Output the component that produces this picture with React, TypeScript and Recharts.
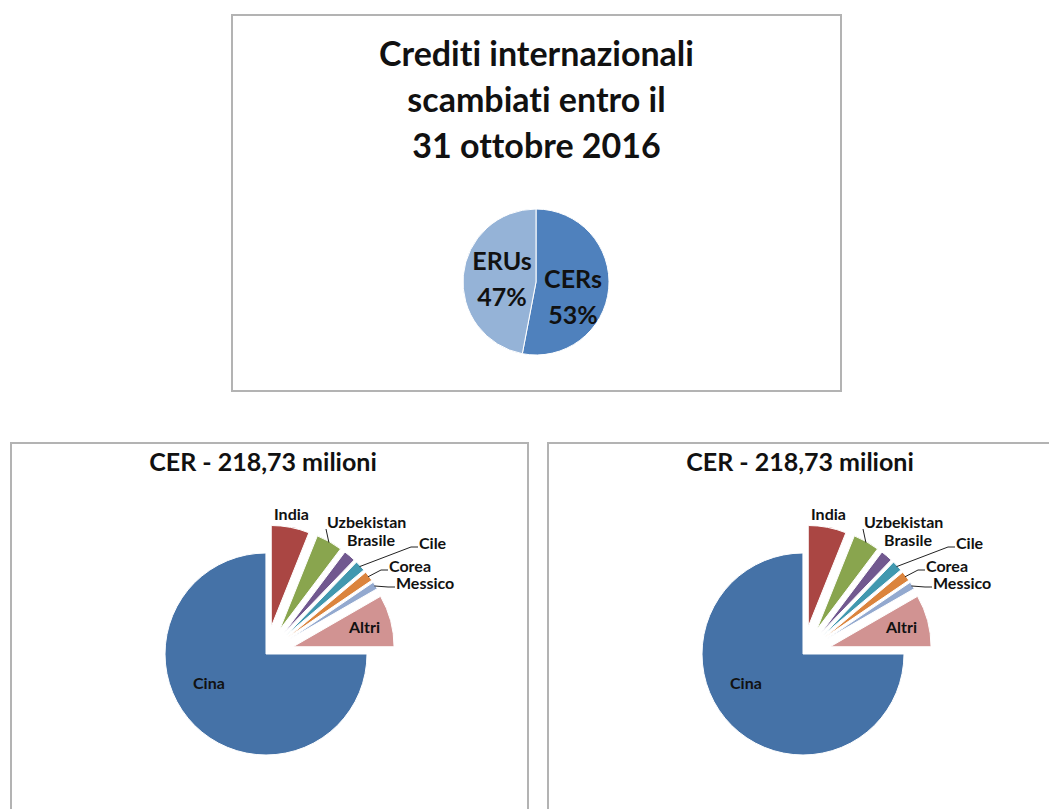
import React from 'react';
import { PieChart, Pie, Cell } from 'recharts';

// top chart: share of international credits
const creditTypes = ['CERs', 'ERUs'];
const creditShares = [53, 47];
const creditColors = ['#4f81bd', '#95b3d7'];

// bottom charts: CER by host country (milioni)
const cerCountries = ['Cina', 'India', 'Uzbekistan', 'Brasile', 'Cile', 'Corea', 'Messico', 'Altri'];
const cerMillions = [164.0, 13.3, 9.2, 4.2, 3.7, 3.5, 2.6, 18.2];
const cerColors = ['#4572a7', '#aa4643', '#89a54e', '#71588f', '#4198af', '#db843d', '#93a9cf', '#d19392'];
const cerExploded = [false, true, true, true, true, true, true, true];

const FONT = 'Lato, "Open Sans", sans-serif';
const RAD = Math.PI / 180;
const noLig: React.CSSProperties = { fontVariantLigatures: 'none', fontFeatureSettings: '"liga" 0, "clig" 0' };
const NO_MARGIN = { top: 0, right: 0, bottom: 0, left: 0 };

const creditData = creditTypes.map((name, i) => ({ name, value: creditShares[i] }));
const cerData = cerCountries.map((name, i) => ({ name, value: cerMillions[i] }));

// label placement relative to pie centre
const creditLabelPos = [[37, -4], [-34, -22]];
const cerLabelPos = [[-73, 28], [8, -141], [61, -133], [81, -115], [153, -112], [123, -89], [130, -72], [83, -28]];
const cerLeader = ['', '', 'drop', '', 'elbow', 'elbow', 'elbow', ''];

const START = 0;
const END = -360;
const cerTotal = cerMillions.reduce((a, b) => a + b, 0);
const cerMid = cerMillions.map((v, i) => {
  const before = cerMillions.slice(0, i).reduce((a, b) => a + b, 0);
  return START + ((END - START) * (before + v / 2)) / cerTotal;
});

function CreditsPanel() {
  const W = 611, H = 378;
  const CX = 305, CY = 268;
  const renderLabel = (p: any) => {
    const i = p.index;
    const [dx, dy] = creditLabelPos[i];
    const pct = `${creditShares[i]}%`;
    return (
      <text key={`l${i}`} x={CX + dx} y={CY + dy} textAnchor="middle" dominantBaseline="central"
        fontFamily={FONT} fontWeight={700} fontSize={25} fill="#111" style={noLig}>
        <tspan x={CX + dx} dy={0}>{creditTypes[i]}</tspan>
        <tspan x={CX + dx} dy={36}>{pct}</tspan>
      </text>
    );
  };
  return (
    <div style={{ position: 'absolute', left: 231, top: 14, width: W, height: H }}>
      <div style={{ position: 'absolute', inset: 0, border: '2px solid #b3b3b3', boxSizing: 'border-box' }} />
      <div style={{ position: 'absolute', left: 0, width: W, top: 16, textAlign: 'center', fontFamily: FONT,
        fontWeight: 700, fontSize: 34, lineHeight: '46px', color: '#111', ...noLig }}>
        Crediti internazionali<br />scambiati entro il<br />31 ottobre 2016
      </div>
      <div style={{ position: 'absolute', left: 0, top: 0 }}>
        <PieChart width={W} height={H} margin={NO_MARGIN}>
          <Pie data={creditData} dataKey="value" cx={CX} cy={CY} outerRadius={73} startAngle={90} endAngle={-270}
            stroke="#ffffff" strokeWidth={1} label={renderLabel} labelLine={false} isAnimationActive={false}>
            {creditData.map((d, i) => <Cell key={d.name} fill={creditColors[i]} />)}
          </Pie>
        </PieChart>
      </div>
    </div>
  );
}

function CerPanel({ left }: { left: number }) {
  const W = 519, H = 367;
  const CX = 256, CY = 212, R = 101, OFF = 28;

  const renderLabel = (p: any) => {
    const i = p.index;
    const [dx, dy] = cerLabelPos[i];
    const tx = CX + dx, ty = CY + dy;
    const off = cerExploded[i] ? OFF : 0;
    const ex = CX + (off + R - 1) * Math.cos(cerMid[i] * RAD);
    const ey = CY - (off + R - 1) * Math.sin(cerMid[i] * RAD);
    let line = null;
    if (cerLeader[i] === 'elbow') {
      line = <polyline points={`${ex},${ey} ${tx - 8},${ty + 5} ${tx - 1},${ty + 5}`} fill="none" stroke="#222" strokeWidth={1} />;
    } else if (cerLeader[i] === 'drop') {
      line = <polyline points={`${ex},${ey} ${tx - 1},${ty + 8}`} fill="none" stroke="#222" strokeWidth={1} />;
    }
    return (
      <g key={`l${i}`}>
        {line}
        <text x={tx} y={ty} textAnchor="start" dominantBaseline="central" fontFamily={FONT}
          fontWeight={700} fontSize={16} fill="#111" style={noLig}>{cerCountries[i]}</text>
      </g>
    );
  };

  return (
    <div style={{ position: 'absolute', left, top: 442, width: W, height: 400 }}>
      <div style={{ position: 'absolute', inset: 0, border: '2px solid #b3b3b3', boxSizing: 'border-box' }} />
      <div style={{ position: 'absolute', left: 0, width: 506, top: 4, textAlign: 'center', fontFamily: FONT,
        fontWeight: 700, fontSize: 25, lineHeight: '30px', color: '#111', ...noLig }}>
        CER - 218,73 milioni
      </div>
      <div style={{ position: 'absolute', left: 0, top: 0 }}>
        <PieChart width={W} height={H} margin={NO_MARGIN}>
          {cerData.map((_, k) => {
            const off = cerExploded[k] ? OFF : 0;
            return (
              <Pie key={`p${k}`} data={cerData} dataKey="value"
                cx={CX + off * Math.cos(cerMid[k] * RAD)} cy={CY - off * Math.sin(cerMid[k] * RAD)}
                outerRadius={R} startAngle={START} endAngle={END} labelLine={false} isAnimationActive={false}>
                {cerData.map((d, i) => (
                  <Cell key={d.name} fill={i === k ? cerColors[i] : 'none'} stroke={i === k ? '#ffffff' : 'none'} strokeWidth={1} />
                ))}
              </Pie>
            );
          })}
          <Pie data={cerData} dataKey="value" cx={CX} cy={CY} outerRadius={R} startAngle={START} endAngle={END}
            label={renderLabel} labelLine={false} isAnimationActive={false}>
            {cerData.map((d) => <Cell key={d.name} fill="none" stroke="none" />)}
          </Pie>
        </PieChart>
      </div>
    </div>
  );
}

export default function App() {
  return (
    <div style={{ position: 'absolute', left: 0, top: 0, width: 1049, height: 809, overflow: 'hidden', background: '#fff' }}>
      <CreditsPanel />
      <CerPanel left={10} />
      <CerPanel left={547} />
    </div>
  );
}
